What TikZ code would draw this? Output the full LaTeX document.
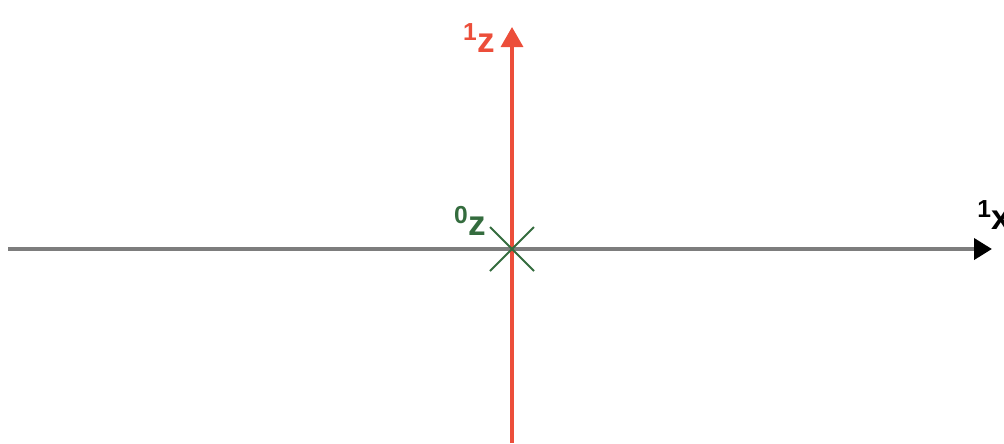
\documentclass[tikz,border=0pt]{standalone}
\usepackage{fontspec}
\setmainfont{Liberation Sans}
\usepackage{tikz}
\usetikzlibrary{arrows.meta}

\definecolor{axisgray}{RGB}{125,125,125}
\definecolor{axisred}{RGB}{236,78,58}
\definecolor{framegreen}{RGB}{52,108,62}

\begin{document}
\begin{tikzpicture}[
    x=0.025cm, y=-0.025cm,
    every node/.style={font=\fontsize{25}{28}\selectfont\bfseries, inner sep=0pt},
    xaxis/.style={axisgray, line width=1.1mm, -{Triangle[length=4.5mm, width=5.2mm, black]}},
    zaxis/.style={axisred, line width=0.8mm, -{Triangle[length=5mm, width=5.5mm]}},
    cross/.style={framegreen, line width=0.5mm},
    axislabel/.style={anchor=center}
]
\useasboundingbox (0,0) rectangle (1004,443);

\coordinate (origin) at (512,249);
\coordinate (xstart) at (8,249);
\coordinate (xend) at (992,249);
\coordinate (zstart) at (512,443);
\coordinate (zend) at (512,27);

\draw[xaxis] (xstart) -- (xend);
\draw[zaxis] (zstart) -- (zend);

% z axis of frame 0, pointing into the page
\draw[cross] (490,227) -- (534,271);
\draw[cross] (490,271) -- (534,227);

% labels
\node[axislabel, text=axisred] (zlabel) at (479,38) {\textsuperscript{1}z};
\node[axislabel, text=framegreen] (zzerolabel) at (470,221) {\textsuperscript{0}z};
\node[axislabel, text=black, anchor=west] (xlabel) at (977,215) {\textsuperscript{1}x};

\end{tikzpicture}
\end{document}
